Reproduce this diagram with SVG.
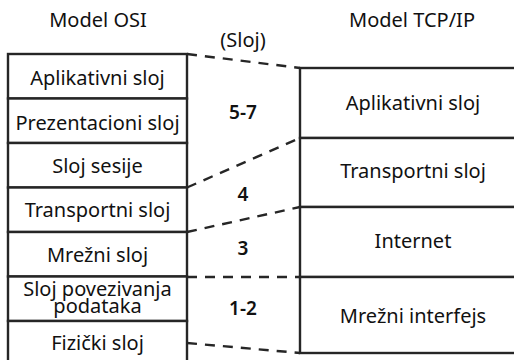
<svg xmlns="http://www.w3.org/2000/svg" width="514" height="360" viewBox="0 0 514 360">
  <style>
    .box { fill: #ffffff; stroke: #262626; stroke-width: 2.4; }
    .lbl { font-family: "Noto Sans", "Open Sans", sans-serif; font-size: 20px; fill: #111111; text-anchor: middle; }
    .num { font-family: "Noto Sans", "Open Sans", sans-serif; font-size: 19px; font-weight: 600; fill: #111111; text-anchor: middle; }
    .dash { fill: none; stroke: #262626; stroke-width: 2.4; stroke-dasharray: 10 8; }
  </style>
  <rect width="514" height="360" fill="#ffffff"/>

  <!-- column titles -->
  <text class="lbl" x="98" y="27">Model OSI</text>
  <text class="lbl" x="412" y="27">Model TCP/IP</text>
  <text class="lbl" x="243" y="47">(Sloj)</text>

  <!-- OSI layers -->
  <g id="osi-aplikativni">
    <rect class="box" x="8" y="54" width="179" height="44.5"/>
    <text class="lbl" x="97.5" y="85">Aplikativni sloj</text>
  </g>
  <g id="osi-prezentacioni">
    <rect class="box" x="8" y="98.5" width="179" height="44.5"/>
    <text class="lbl" x="97.5" y="130">Prezentacioni sloj</text>
  </g>
  <g id="osi-sesija">
    <rect class="box" x="8" y="143" width="179" height="44.5"/>
    <text class="lbl" x="97.5" y="173">Sloj sesije</text>
  </g>
  <g id="osi-transportni">
    <rect class="box" x="8" y="187.5" width="179" height="44.5"/>
    <text class="lbl" x="97.5" y="217">Transportni sloj</text>
  </g>
  <g id="osi-mrezni">
    <rect class="box" x="8" y="232" width="179" height="44.5"/>
    <text class="lbl" x="97.5" y="262">Mrežni sloj</text>
  </g>
  <g id="osi-povezivanje">
    <rect class="box" x="8" y="276.5" width="179" height="44.5"/>
    <text class="lbl" x="97.5" y="296">Sloj povezivanja</text>
    <text class="lbl" x="97.5" y="313">podataka</text>
  </g>
  <g id="osi-fizicki">
    <rect class="box" x="8" y="321" width="179" height="44.5"/>
    <text class="lbl" x="97.5" y="350">Fizički sloj</text>
  </g>

  <!-- TCP/IP layers -->
  <g id="tcp-aplikativni">
    <rect class="box" x="300" y="68" width="230" height="70"/>
    <text class="lbl" x="413" y="110">Aplikativni sloj</text>
  </g>
  <g id="tcp-transportni">
    <rect class="box" x="300" y="138" width="230" height="69"/>
    <text class="lbl" x="413" y="178">Transportni sloj</text>
  </g>
  <g id="tcp-internet">
    <rect class="box" x="300" y="207" width="230" height="70"/>
    <text class="lbl" x="413" y="248">Internet</text>
  </g>
  <g id="tcp-interfejs">
    <rect class="box" x="300" y="277" width="230" height="76"/>
    <text class="lbl" x="413" y="323">Mrežni interfejs</text>
  </g>

  <!-- layer numbers -->
  <text class="num" x="243" y="119">5-7</text>
  <text class="num" x="243" y="201">4</text>
  <text class="num" x="243" y="255">3</text>
  <text class="num" x="243" y="315">1-2</text>

  <!-- mapping connectors -->
  <g id="connectors">
    <line class="dash" x1="187" y1="54" x2="300" y2="68"/>
    <line class="dash" x1="187" y1="187.5" x2="300" y2="138"/>
    <line class="dash" x1="187" y1="232" x2="300" y2="207"/>
    <line class="dash" x1="187" y1="277" x2="300" y2="277"/>
    <line class="dash" x1="187" y1="343" x2="300" y2="353"/>
  </g>
</svg>
